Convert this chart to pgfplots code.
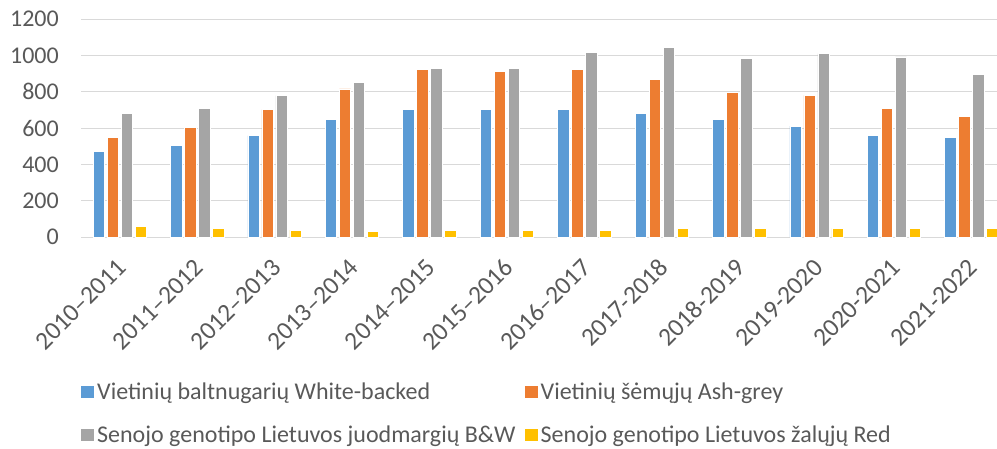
\documentclass[border=0pt]{standalone}
\usepackage{fontspec}
\setmainfont{Carlito}
\usepackage{pgfplots}
\pgfplotsset{compat=1.18}
\definecolor{xlblue}{HTML}{5B9BD5}
\definecolor{xlorange}{HTML}{ED7D31}
\definecolor{xlgray}{HTML}{A5A5A5}
\definecolor{xlyellow}{HTML}{FFC000}
\definecolor{gridgray}{HTML}{D9D9D9}
\definecolor{txtgray}{HTML}{595959}

\begin{document}
\begin{tikzpicture}
\useasboundingbox (0,0) rectangle (997pt,448pt);
\begin{axis}[
  at={(81pt,211pt)}, anchor=south west,
  scale only axis, width=916pt, height=218pt,
  xmin=-0.5, xmax=11.33, ymin=0, ymax=1200, ytick distance=200,
  ybar=2.6pt, bar width=11.4pt,
  xtick={0,...,11},
  xticklabels={2010–2011,2011–2012,2012–2013,2013–2014,2014–2015,2015–2016,2016–2017,2017-2018,2018-2019,2019-2020,2020-2021,2021-2022},
  axis line style={draw=none}, major tick length=0pt,
  ymajorgrids, grid style={draw=gridgray, line width=1pt},
  /pgf/number format/assume math mode=true,
  /pgf/number format/1000 sep={},
  tick label style={font=\fontsize{24}{28}\selectfont, text=txtgray},
  yticklabel style={inner sep=0pt, xshift=-22pt},
  xticklabel style={font=\fontsize{25.5}{30}\selectfont, inner sep=0pt, xshift=2pt, yshift=-26pt, rotate=45, anchor=east},
  legend columns=2, legend cell align=left,
  legend style={at={(axis description cs:-0.0033,-0.66)}, anchor=north west,
    draw=none, fill=none, font=\fontsize{24}{28}\selectfont, text=txtgray,
    row sep=25pt, nodes={inner xsep=3pt, inner ysep=0pt},
    /tikz/every even column/.append style={column sep=6pt}},
  legend image code/.code={\fill[#1,draw=none] (0pt,-6pt) rectangle (13pt,6pt);},
]
\addplot[fill=xlblue, draw=white, line width=0.6pt] coordinates {
  (0,470) (1,505) (2,558) (3,648) (4,701) (5,701) (6,701) (7,681) (8,648) (9,611) (10,560) (11,550)};
\addplot[fill=xlorange, draw=white, line width=0.6pt] coordinates {
  (0,550) (1,602) (2,701) (3,815) (4,921) (5,912) (6,921) (7,868) (8,796) (9,780) (10,708) (11,664)};
\addplot[fill=xlgray, draw=white, line width=0.6pt] coordinates {
  (0,681) (1,708) (2,778) (3,850) (4,929) (5,929) (6,1017) (7,1044) (8,982) (9,1009) (10,991) (11,894)};
\addplot[fill=xlyellow, draw=white, line width=0.6pt] coordinates {
  (0,57) (1,46) (2,38) (3,31) (4,38) (5,38) (6,38) (7,48) (8,48) (9,48) (10,48) (11,48)};
\addlegendentry{Vietinių baltnugarių White-backed}
\addlegendentry{Vietinių šėmųjų Ash-grey}
\addlegendentry{Senojo genotipo Lietuvos juodmargių B\&W}
\addlegendentry{Senojo genotipo Lietuvos žalųjų Red}
\end{axis}
\end{tikzpicture}
\end{document}
